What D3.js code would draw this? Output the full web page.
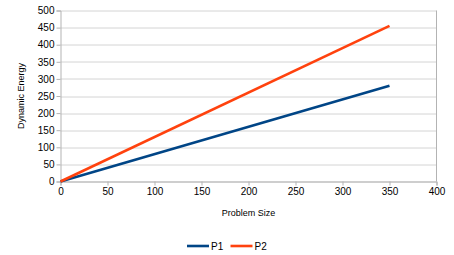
<!DOCTYPE html>
<html>
<head>
<meta charset="utf-8">
<script src="https://cdn.jsdelivr.net/npm/d3@7"></script>
<style>
  body { margin: 0; background: #fff; }
  text { font-family: "Liberation Sans", Arial, sans-serif; fill: #000; }
</style>
</head>
<body>
<div class="chart"></div>
<script>
(() => {
  const problemSize = [0, 350];
  const p1 = [0, 280];
  const p2 = [0, 455];
  const xTicks = [0, 50, 100, 150, 200, 250, 300, 350, 400];
  const yTicks = [0, 50, 100, 150, 200, 250, 300, 350, 400, 450, 500];

  const series = [
    { name: "P1", values: p1, color: "#004586" },
    { name: "P2", values: p2, color: "#ff420e" },
  ];

  const width = 454, height = 255;
  const margin = { top: 10.5, right: 17.5, bottom: 73.5, left: 60.5 };
  const innerWidth = width - margin.left - margin.right;
  const innerHeight = height - margin.top - margin.bottom;

  const svg = d3.select(".chart")
    .append("svg")
    .attr("width", width)
    .attr("height", height);

  const x = d3.scaleLinear().domain([0, 400]).range([0, innerWidth]);
  const y = d3.scaleLinear().domain([0, 500]).range([innerHeight, 0]);

  const g = svg.append("g")
    .attr("transform", `translate(${margin.left},${margin.top})`);

  // horizontal grid
  g.append("g")
    .selectAll("line")
    .data(yTicks)
    .enter().append("line")
      .attr("x1", 0)
      .attr("x2", innerWidth)
      .attr("y1", d => Math.round(y(d)) + 0.5)
      .attr("y2", d => Math.round(y(d)) + 0.5)
      .attr("stroke", "#d4d4d4")
      .attr("stroke-width", 1);

  // right border
  g.append("line")
    .attr("x1", innerWidth).attr("x2", innerWidth)
    .attr("y1", 0).attr("y2", innerHeight)
    .attr("stroke", "#b3b3b3");

  const xAxis = g.append("g")
    .attr("transform", `translate(0,${innerHeight})`)
    .call(d3.axisBottom(x).tickValues(xTicks).tickSize(4).tickPadding(2));
  const yAxis = g.append("g")
    .call(d3.axisLeft(y).tickValues(yTicks).tickSize(4).tickPadding(2));

  [xAxis, yAxis].forEach(a => {
    a.select(".domain").attr("stroke", "#b3b3b3");
    a.selectAll(".tick line").attr("stroke", "#b3b3b3");
    a.selectAll(".tick text")
      .style("font-family", "Liberation Sans, Arial, sans-serif")
      .style("font-size", "10px")
      .attr("fill", "#000");
  });

  const line = d3.line()
    .x((d, i) => x(problemSize[i]))
    .y(d => y(d));

  g.selectAll(".series")
    .data(series)
    .enter().append("path")
      .attr("class", "series")
      .attr("d", d => line(d.values))
      .attr("fill", "none")
      .attr("stroke", d => d.color)
      .attr("stroke-width", 2.6);

  // axis titles
  svg.append("text")
    .attr("x", margin.left + innerWidth / 2)
    .attr("y", 216)
    .attr("text-anchor", "middle")
    .style("font-size", "9px")
    .text("Problem Size");

  svg.append("text")
    .attr("transform", `translate(24,${margin.top + innerHeight / 2}) rotate(-90)`)
    .attr("text-anchor", "middle")
    .style("font-size", "9px")
    .text("Dynamic Energy");

  // legend
  const legend = svg.append("g")
    .attr("transform", "translate(187,246)");
  const item = legend.selectAll("g")
    .data(series)
    .enter().append("g")
      .attr("transform", (d, i) => `translate(${i * 43.5},0)`);
  item.append("line")
    .attr("x1", 0).attr("x2", 22)
    .attr("stroke", d => d.color)
    .attr("stroke-width", 2.6);
  item.append("text")
    .attr("x", 24)
    .attr("y", 3.5)
    .style("font-size", "10px")
    .text(d => d.name);
})();
</script>
</body>
</html>
